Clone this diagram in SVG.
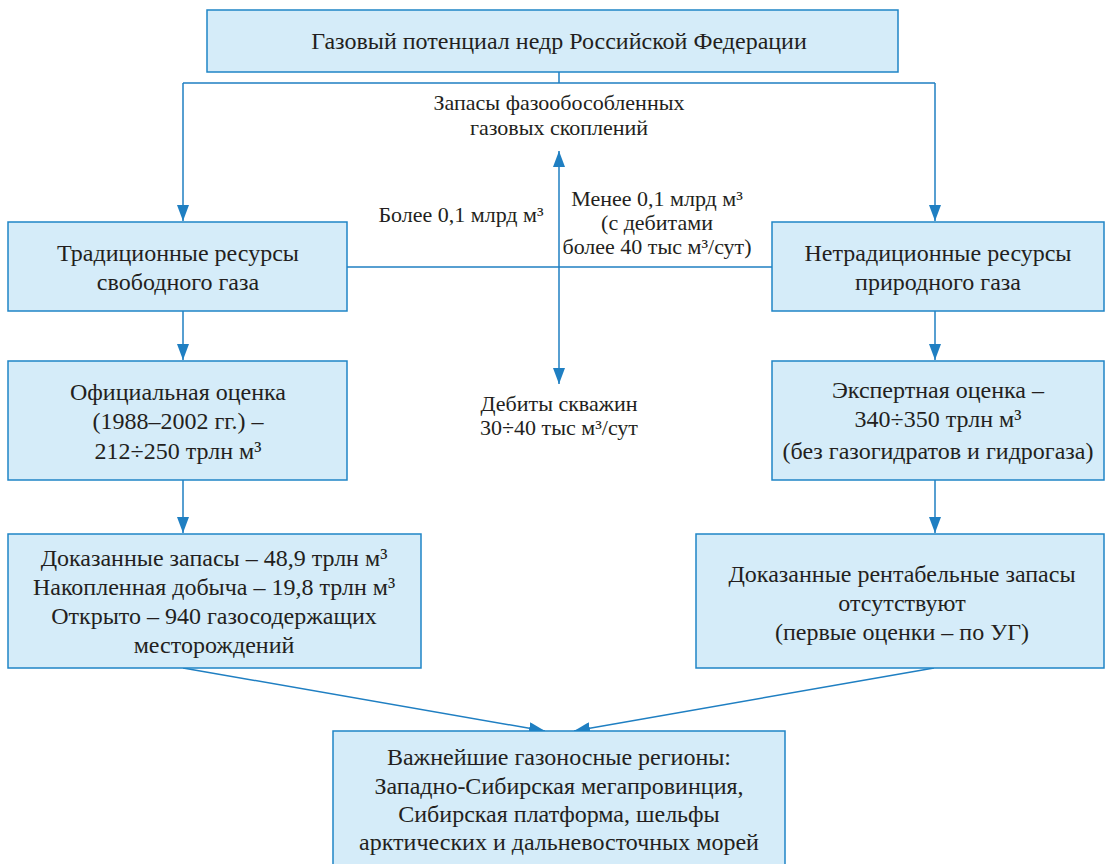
<svg xmlns="http://www.w3.org/2000/svg" width="1106" height="864" viewBox="0 0 1106 864" font-family="Liberation Serif, serif">
<defs>
<style>
svg text, svg g text, #labels text, g[id] text { font-family: "Liberation Serif", "Times New Roman", serif !important; }
.box { fill: #d5ecf9; stroke: #1f85c6; stroke-width: 1.5; }
.c { fill: none; stroke: #1f7fc2; stroke-width: 1.5; }
</style>
<marker id="a" viewBox="0 0 16 12" refX="16" refY="6" markerWidth="16" markerHeight="12" markerUnits="userSpaceOnUse" orient="auto-start-reverse">
<path d="M0,0 L16,6 L0,12 Z" fill="#1f7fc2"/>
</marker>
</defs>
<rect width="1106" height="864" fill="#ffffff"/>
<g id="connectors">
<path class="c" d="M559,72 V83 M183,83 H935"/>
<path class="c" d="M183,83 V221" marker-end="url(#a)"/>
<path class="c" d="M935,83 V221" marker-end="url(#a)"/>
<path class="c" d="M347,267 H772"/>
<path class="c" d="M559,151 V384" marker-start="url(#a)" marker-end="url(#a)"/>
<path class="c" d="M183,311 V360" marker-end="url(#a)"/>
<path class="c" d="M935,311 V360" marker-end="url(#a)"/>
<path class="c" d="M183,480 V533" marker-end="url(#a)"/>
<path class="c" d="M935,480 V533" marker-end="url(#a)"/>
<path class="c" d="M183,668 L545,731" marker-end="url(#a)"/>
<path class="c" d="M934,668 L574,731" marker-end="url(#a)"/>
</g>
<g id="labels" fill="#231f20" text-anchor="middle" font-size="22">
<text style="font-family:'Liberation Serif',serif !important" x="559" y="110">Запасы фазообособленных</text>
<text style="font-family:'Liberation Serif',serif !important" x="559" y="135">газовых скоплений</text>
<text style="font-family:'Liberation Serif',serif !important" x="461" y="222">Более 0,1 млрд м³</text>
<text style="font-family:'Liberation Serif',serif !important" x="657" y="206">Менее 0,1 млрд м³</text>
<text style="font-family:'Liberation Serif',serif !important" x="657" y="230">(с дебитами</text>
<text style="font-family:'Liberation Serif',serif !important" x="657" y="254">более 40 тыс м³/сут)</text>
<text style="font-family:'Liberation Serif',serif !important" x="559" y="411">Дебиты скважин</text>
<text style="font-family:'Liberation Serif',serif !important" x="559" y="435">30÷40 тыс м³/сут</text>
</g>
<g id="n-top" fill="#231f20" text-anchor="middle" font-size="24">
<rect class="box" x="207" y="10" width="691" height="62"/>
<text style="font-family:'Liberation Serif',serif !important" x="559" y="49">Газовый потенциал недр Российской Федерации</text>
</g>
<g id="n-trad" fill="#231f20" text-anchor="middle" font-size="24">
<rect class="box" x="8" y="222" width="339" height="89"/>
<text style="font-family:'Liberation Serif',serif !important" x="178" y="261">Традиционные ресурсы</text>
<text style="font-family:'Liberation Serif',serif !important" x="178" y="290">свободного газа</text>
</g>
<g id="n-netrad" fill="#231f20" text-anchor="middle" font-size="24">
<rect class="box" x="772" y="222" width="332" height="89"/>
<text style="font-family:'Liberation Serif',serif !important" x="938" y="261">Нетрадиционные ресурсы</text>
<text style="font-family:'Liberation Serif',serif !important" x="938" y="290">природного газа</text>
</g>
<g id="n-ofic" fill="#231f20" text-anchor="middle" font-size="24">
<rect class="box" x="8" y="361" width="339" height="119"/>
<text style="font-family:'Liberation Serif',serif !important" x="178" y="400">Официальная оценка</text>
<text style="font-family:'Liberation Serif',serif !important" x="178" y="429">(1988–2002 гг.) –</text>
<text style="font-family:'Liberation Serif',serif !important" x="178" y="459">212÷250 трлн м³</text>
</g>
<g id="n-expert" fill="#231f20" text-anchor="middle" font-size="24">
<rect class="box" x="772" y="361" width="332" height="119"/>
<text style="font-family:'Liberation Serif',serif !important" x="938" y="398">Экспертная оценка –</text>
<text style="font-family:'Liberation Serif',serif !important" x="938" y="427">340÷350 трлн м³</text>
<text style="font-family:'Liberation Serif',serif !important" x="938" y="459">(без газогидратов и гидрогаза)</text>
</g>
<g id="n-dokaz" fill="#231f20" text-anchor="middle" font-size="24">
<rect class="box" x="8" y="534" width="413" height="134"/>
<text style="font-family:'Liberation Serif',serif !important" x="214" y="566">Доказанные запасы – 48,9 трлн м³</text>
<text style="font-family:'Liberation Serif',serif !important" x="214" y="595">Накопленная добыча – 19,8 трлн м³</text>
<text style="font-family:'Liberation Serif',serif !important" x="214" y="624">Открыто – 940 газосодержащих</text>
<text style="font-family:'Liberation Serif',serif !important" x="214" y="653">месторождений</text>
</g>
<g id="n-rent" fill="#231f20" text-anchor="middle" font-size="24">
<rect class="box" x="696" y="534" width="408" height="134"/>
<text style="font-family:'Liberation Serif',serif !important" x="902" y="582">Доказанные рентабельные запасы</text>
<text style="font-family:'Liberation Serif',serif !important" x="902" y="611">отсутствуют</text>
<text style="font-family:'Liberation Serif',serif !important" x="902" y="640">(первые оценки – по УГ)</text>
</g>
<g id="n-regions" fill="#231f20" text-anchor="middle" font-size="24">
<rect class="box" x="333" y="731" width="452" height="140"/>
<text style="font-family:'Liberation Serif',serif !important" x="559" y="765">Важнейшие газоносные регионы:</text>
<text style="font-family:'Liberation Serif',serif !important" x="559" y="794">Западно-Сибирская мегапровинция,</text>
<text style="font-family:'Liberation Serif',serif !important" x="559" y="822">Сибирская платформа, шельфы</text>
<text style="font-family:'Liberation Serif',serif !important" x="559" y="850">арктических и дальневосточных морей</text>
</g>
</svg>
